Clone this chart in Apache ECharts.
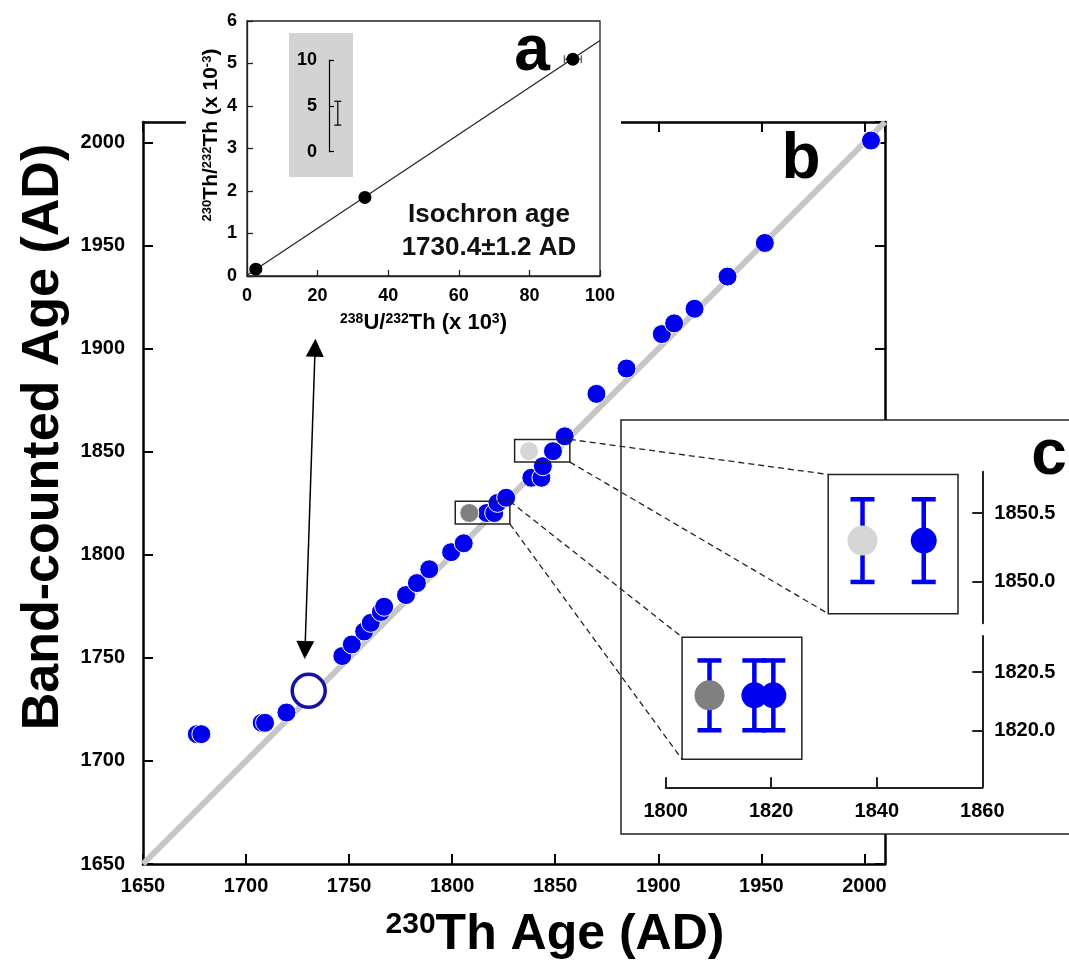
<!DOCTYPE html>
<html>
<head>
<meta charset="utf-8">
<script src="https://cdn.jsdelivr.net/npm/echarts@6/dist/echarts.min.js"></script>
<style>
  html, body { margin: 0; padding: 0; background: #fff; }
  #chart { width: 1069px; height: 969px; }
</style>
</head>
<body>
<div id="chart"></div>
<script>
// panel b: 230Th age vs band-counted age (blue samples)
const thAge = [1676.1, 1678.3, 1707.6, 1709.2, 1719.6, 1746.7, 1751.3, 1757.3, 1760.5, 1765.4, 1767.0,
  1777.6, 1782.9, 1788.9, 1799.5, 1805.6, 1816.8, 1820.4, 1822.0, 1826.2, 1838.4, 1843.3, 1844.0,
  1848.9, 1854.6, 1870.0, 1884.6, 1901.7, 1907.7, 1917.6, 1933.6, 1951.7, 2003.2];
const bandAge = [1713.0, 1713.0, 1718.5, 1718.5, 1723.5, 1750.9, 1756.5, 1762.8, 1767.0, 1772.3, 1774.8,
  1780.5, 1786.3, 1793.0, 1801.3, 1805.6, 1820.3, 1820.3, 1825.2, 1827.7, 1837.4, 1837.4, 1843.0,
  1850.3, 1857.5, 1878.1, 1890.4, 1907.1, 1912.3, 1919.4, 1935.0, 1951.3, 2001.0];
// grey samples (dark, light)
const greyTh = [1808.3, 1837.3];
const greyBand = [1820.3, 1850.3];
const greyColors = ["#808080", "#d6d6d6"];
// isochron sample
const isoTh = [1730.4];
const isoBand = [1734.0];
const bandErr = 0.3;

// panel a: isochron
const ratioU = [2.5, 33.4, 92.3];
const ratioTh = [0.16, 1.85, 5.1];
const ratioUErr = [0, 0, 2.4];
const isoLineU = [0, 100];
const isoLineTh = [0.02, 5.54];
const scaleBar = [2.9, 5.5];

// zoom boxes (panel b) and their enlarged copies (panel c)
const boxTh = [[1801.5, 1828.0], [1830.3, 1857.1]];
const boxBand = [[1815.0, 1826.0], [1845.0, 1856.0]];
const subTh = [[1803.1, 1825.8], [1830.8, 1855.4]];
const subBand = [[1819.75, 1820.8], [1849.77, 1850.78]];

const FONT = '"Liberation Sans", Arial, sans-serif';
const chart = echarts.init(document.getElementById("chart"));

const bold = (size) => ({ fontFamily: FONT, fontWeight: "bold", fontSize: size, color: "#000" });
const supRich = (base, sup) => ({
  s: { ...bold(sup), verticalAlign: "top" },
  n: { ...bold(base) },
});
const plain = (v) => String(v);

const bluePts = thAge.map((x, i) => [x, bandAge[i]]);
const greyPts = greyTh.map((x, i) => ({ value: [x, greyBand[i]], itemStyle: { color: greyColors[i] } }));

// points that fall inside each enlarged box
const inBox = (k) => {
  const pts = [];
  bluePts.forEach((p) => {
    if (p[1] >= subBand[k][0] && p[1] <= subBand[k][1]) pts.push({ value: p, itemStyle: { color: "#0000f0" } });
  });
  greyPts.forEach((p) => {
    if (p.value[1] >= subBand[k][0] && p.value[1] <= subBand[k][1]) pts.push(p);
  });
  return pts;
};

function vErr(params, api) {
  const x = api.value(0), y = api.value(1);
  const top = api.coord([x, y + bandErr]);
  const bot = api.coord([x, y - bandErr]);
  const cap = 12;
  const st = { stroke: "#0000f0", lineWidth: 4.5 };
  return {
    type: "group",
    children: [
      { type: "line", shape: { x1: top[0], y1: top[1], x2: bot[0], y2: bot[1] }, style: st },
      { type: "line", shape: { x1: top[0] - cap, y1: top[1], x2: top[0] + cap, y2: top[1] }, style: st },
      { type: "line", shape: { x1: bot[0] - cap, y1: bot[1], x2: bot[0] + cap, y2: bot[1] }, style: st },
    ],
  };
}

function hErr(params, api) {
  const x = api.value(0), y = api.value(1), e = api.value(2);
  if (!e) return null;
  const l = api.coord([x - e, y]);
  const r = api.coord([x + e, y]);
  const st = { stroke: "#555", lineWidth: 1.2 };
  return {
    type: "group",
    children: [
      { type: "line", shape: { x1: l[0], y1: l[1], x2: r[0], y2: r[1] }, style: st },
      { type: "line", shape: { x1: l[0], y1: l[1] - 4, x2: l[0], y2: l[1] + 4 }, style: st },
      { type: "line", shape: { x1: r[0], y1: r[1] - 4, x2: r[0], y2: r[1] + 4 }, style: st },
    ],
  };
}

function scaleErr(params, api) {
  const x = api.value(0);
  const top = api.coord([x, api.value(2)]);
  const bot = api.coord([x, api.value(1)]);
  const st = { stroke: "#000", lineWidth: 1.2 };
  return {
    type: "group",
    children: [
      { type: "line", shape: { x1: top[0], y1: top[1], x2: bot[0], y2: bot[1] }, style: st },
      { type: "line", shape: { x1: top[0] - 3.5, y1: top[1], x2: top[0] + 3.5, y2: top[1] }, style: st },
      { type: "line", shape: { x1: bot[0] - 3.5, y1: bot[1], x2: bot[0] + 3.5, y2: bot[1] }, style: st },
    ],
  };
}

const mainAxisLine = { lineStyle: { color: "#000", width: 2.5 } };
const mainTick = { inside: true, length: 10, lineStyle: { color: "#000", width: 2 } };
const thinLine = { lineStyle: { color: "#222", width: 1.3 } };
const thinTick = { inside: true, length: 6, lineStyle: { color: "#222", width: 1.3 } };
const noSplit = { show: false };

const boxArea = (k) => [[{ coord: [boxTh[k][0], boxBand[k][0]] }, { coord: [boxTh[k][1], boxBand[k][1]] }]];
const subArea = (k) => [[{ coord: [subTh[k][0], subBand[k][0]] }, { coord: [subTh[k][1], subBand[k][1]] }]];
const areaStyle = { color: "rgba(0,0,0,0)", borderColor: "#222", borderWidth: 1.5 };

const options = {
  backgroundColor: "#fff",
  animation: false,
  grid: [
    { left: 143, top: 122, width: 742, height: 742, outerBoundsMode: "none", containLabel: false },
    { left: 247, top: 21, width: 353, height: 255, show: true, backgroundColor: "#fff",
      borderColor: "#222", borderWidth: 1.3, z: 10, outerBoundsMode: "none", containLabel: false },
    { left: 329, top: 60, width: 16, height: 91.7, z: 12, outerBoundsMode: "none", containLabel: false },
    { left: 665.7, top: 471.7, width: 316.6, height: 151.6, z: 11, outerBoundsMode: "none", containLabel: false },
    { left: 665.7, top: 636, width: 316.6, height: 151.3, z: 11, outerBoundsMode: "none", containLabel: false },
  ],
  xAxis: [
    { gridIndex: 0, type: "value", min: 1650, max: 2010, interval: 50, position: "bottom",
      axisLine: mainAxisLine, axisTick: mainTick, splitLine: noSplit,
      axisLabel: { ...bold(20), margin: 12, formatter: plain, showMaxLabel: false },
      name: "{s|230}{n|Th Age (AD)}", nameLocation: "middle", nameGap: 46,
      nameTextStyle: { ...bold(50), padding: [0, 0, 0, 82], rich: supRich(50, 30) } },
    { gridIndex: 0, type: "value", min: 1650, max: 2010, interval: 50, position: "top",
      axisLine: mainAxisLine, axisTick: mainTick, axisLabel: { show: false }, splitLine: noSplit },
    { gridIndex: 1, type: "value", min: 0, max: 100, interval: 20, z: 10,
      axisLine: thinLine, axisTick: thinTick, splitLine: noSplit,
      axisLabel: { ...bold(18), margin: 11 },
      name: "{s|238}{n|U/}{s|232}{n|Th (x 10}{s|3}{n|)}", nameLocation: "middle", nameGap: 36,
      nameTextStyle: { ...bold(22), rich: supRich(22, 14) } },
    { gridIndex: 2, type: "value", min: 0, max: 1, show: false },
    { gridIndex: 3, type: "value", min: 1800, max: 1860, show: false },
    { gridIndex: 4, type: "value", min: 1800, max: 1860, interval: 20, z: 11,
      axisLine: { lineStyle: { color: "#222", width: 2 } },
      axisTick: { inside: true, length: 10, lineStyle: { color: "#222", width: 2 } },
      splitLine: noSplit, axisLabel: { ...bold(20), margin: 14, formatter: plain } },
  ],
  yAxis: [
    { gridIndex: 0, type: "value", min: 1650, max: 2010, interval: 50, position: "left",
      axisLine: mainAxisLine, axisTick: mainTick, splitLine: noSplit,
      axisLabel: { ...bold(20), margin: 18, formatter: plain, showMaxLabel: false },
      name: "Band-counted Age (AD)", nameLocation: "middle", nameGap: 70,
      nameTextStyle: { ...bold(52), padding: [0, 0, 0, 112] } },
    { gridIndex: 0, type: "value", min: 1650, max: 2010, interval: 50, position: "right",
      axisLine: mainAxisLine, axisTick: mainTick, axisLabel: { show: false }, splitLine: noSplit },
    { gridIndex: 1, type: "value", min: 0, max: 6, interval: 1, z: 10,
      axisLine: thinLine, axisTick: thinTick, splitLine: noSplit,
      axisLabel: { ...bold(18), margin: 10 },
      name: "{s|230}{n|Th/}{s|232}{n|Th (x 10}{s|-3}{n|)}", nameLocation: "middle", nameGap: 25,
      nameTextStyle: { ...bold(21), padding: [0, 0, 0, 27], rich: supRich(21, 13) } },
    { gridIndex: 2, type: "value", min: 0, max: 10, interval: 5, z: 12,
      axisLine: { lineStyle: { color: "#000", width: 1.2 } },
      axisTick: { inside: true, length: 5, lineStyle: { color: "#000", width: 1.2 } },
      splitLine: noSplit, axisLabel: { ...bold(18), margin: 12 } },
    { gridIndex: 3, type: "value", min: 1849.7, max: 1850.8, position: "right", z: 11,
      axisLine: { lineStyle: { color: "#222", width: 2 } },
      axisTick: { inside: true, length: 10, lineStyle: { color: "#222", width: 2 }, customValues: [1850, 1850.5] },
      splitLine: noSplit,
      axisLabel: { ...bold(20), margin: 12, customValues: [1850, 1850.5], formatter: (v) => v.toFixed(1) } },
    { gridIndex: 4, type: "value", min: 1819.51, max: 1820.81, position: "right", z: 11,
      axisLine: { lineStyle: { color: "#222", width: 2 } },
      axisTick: { inside: true, length: 10, lineStyle: { color: "#222", width: 2 }, customValues: [1820, 1820.5] },
      splitLine: noSplit,
      axisLabel: { ...bold(20), margin: 12, customValues: [1820, 1820.5], formatter: (v) => v.toFixed(1) } },
  ],
  series: [
    // 1:1 line + arrow
    { type: "line", xAxisIndex: 0, yAxisIndex: 0, data: [[1650, 1650], [2010, 2010]],
      symbol: "none", lineStyle: { color: "#c6c6c6", width: 6 }, z: 1,
      markLine: { silent: true, symbol: ["triangle", "triangle"], symbolSize: [18, 18],
        label: { show: false }, lineStyle: { color: "#000", width: 1.5, type: "solid" },
        data: [[{ coord: [1733.5, 1900.5] }, { coord: [1728.6, 1753.8] }]] } },
    { type: "scatter", xAxisIndex: 0, yAxisIndex: 0, data: bluePts, symbolSize: 19, z: 3,
      itemStyle: { color: "#0000f0", borderColor: "#fff", borderWidth: 1, opacity: 1 },
      markArea: { silent: true, z: 4, itemStyle: areaStyle, data: [...boxArea(0), ...boxArea(1)] } },
    { type: "scatter", xAxisIndex: 0, yAxisIndex: 0, data: greyPts, symbolSize: 19, z: 3,
      itemStyle: { borderColor: "#fff", borderWidth: 1, opacity: 1 } },
    { type: "scatter", xAxisIndex: 0, yAxisIndex: 0, data: isoTh.map((x, i) => [x, isoBand[i]]),
      symbol: "circle", symbolSize: 33, z: 3,
      itemStyle: { color: "#fff", borderColor: "#1212a6", borderWidth: 3.5, opacity: 1 } },

    // panel a
    { type: "line", xAxisIndex: 2, yAxisIndex: 2, data: isoLineU.map((x, i) => [x, isoLineTh[i]]),
      symbol: "none", lineStyle: { color: "#222", width: 1.2 }, z: 11 },
    { type: "custom", xAxisIndex: 2, yAxisIndex: 2, renderItem: hErr, z: 11,
      data: ratioU.map((x, i) => [x, ratioTh[i], ratioUErr[i]]) },
    { type: "scatter", xAxisIndex: 2, yAxisIndex: 2, data: ratioU.map((x, i) => [x, ratioTh[i]]),
      symbolSize: 13, itemStyle: { color: "#000", opacity: 1 }, z: 12 },
    { type: "custom", xAxisIndex: 3, yAxisIndex: 3, renderItem: scaleErr, z: 12,
      data: [[0.55, scaleBar[0], scaleBar[1]]] },

    // panel c
    { type: "custom", xAxisIndex: 4, yAxisIndex: 4, renderItem: vErr, z: 12,
      data: inBox(1).map((p) => p.value),
      markArea: { silent: true, z: 12, itemStyle: areaStyle, data: subArea(1) } },
    { type: "scatter", xAxisIndex: 4, yAxisIndex: 4, data: inBox(1), z: 13,
      symbolSize: (v) => (greyTh.includes(v[0]) ? 30 : 26), itemStyle: { opacity: 1 } },
    { type: "custom", xAxisIndex: 5, yAxisIndex: 5, renderItem: vErr, z: 12,
      data: inBox(0).map((p) => p.value),
      markArea: { silent: true, z: 12, itemStyle: areaStyle, data: subArea(0) } },
    { type: "scatter", xAxisIndex: 5, yAxisIndex: 5, data: inBox(0), z: 13,
      symbolSize: (v) => (greyTh.includes(v[0]) ? 30 : 26), itemStyle: { opacity: 1 } },
  ],
};

chart.setOption(options);

// decorations: covers, panel letters, dashed connectors
const px = (g, p) => chart.convertToPixel({ xAxisIndex: g, yAxisIndex: g }, p);
const links = [
  [px(0, [boxTh[1][1], boxBand[1][1]]), px(4, [subTh[1][0], subBand[1][1]])],
  [px(0, [boxTh[1][1], boxBand[1][0]]), px(4, [subTh[1][0], subBand[1][0]])],
  [px(0, [boxTh[0][1], boxBand[0][1]]), px(5, [subTh[0][0], subBand[0][1]])],
  [px(0, [boxTh[0][1], boxBand[0][0]]), px(5, [subTh[0][0], subBand[0][0]])],
];

const graphic = [
  { id: "coverA", type: "rect", z: 5, silent: true,
    shape: { x: 186, y: 100, width: 435, height: 42 }, style: { fill: "#fff" } },
  { id: "greyBox", type: "rect", z: 11, silent: true,
    shape: { x: 289, y: 33, width: 64, height: 144 }, style: { fill: "#d3d3d3" } },
  { id: "panelC", type: "rect", z: 10, silent: true,
    shape: { x: 621, y: 420, width: 470, height: 414 },
    style: { fill: "#fff", stroke: "#222", lineWidth: 1.5 } },
  { id: "labA", type: "text", z: 14, x: 532, y: 52,
    style: { text: "a", font: "bold 64px " + FONT, fill: "#000", align: "center", verticalAlign: "middle" } },
  { id: "labB", type: "text", z: 14, x: 801, y: 160,
    style: { text: "b", font: "bold 64px " + FONT, fill: "#000", align: "center", verticalAlign: "middle" } },
  { id: "labC", type: "text", z: 14, x: 1049, y: 456,
    style: { text: "c", font: "bold 64px " + FONT, fill: "#000", align: "center", verticalAlign: "middle" } },
  { id: "isoT1", type: "text", z: 14, x: 489, y: 215,
    style: { text: "Isochron age", font: "bold 26px " + FONT, fill: "#111", align: "center", verticalAlign: "middle" } },
  { id: "isoT2", type: "text", z: 14, x: 489, y: 248,
    style: { text: "1730.4\u00b11.2 AD", font: "bold 26px " + FONT, fill: "#111", align: "center", verticalAlign: "middle" } },
];
links.forEach((l, i) => {
  graphic.push({ id: "link" + i, type: "line", z: 14, silent: true,
    shape: { x1: l[0][0], y1: l[0][1], x2: l[1][0], y2: l[1][1] },
    style: { stroke: "#222", lineWidth: 1.3, lineDash: [6, 4] } });
});

chart.setOption({ graphic });
</script>
</body>
</html>
